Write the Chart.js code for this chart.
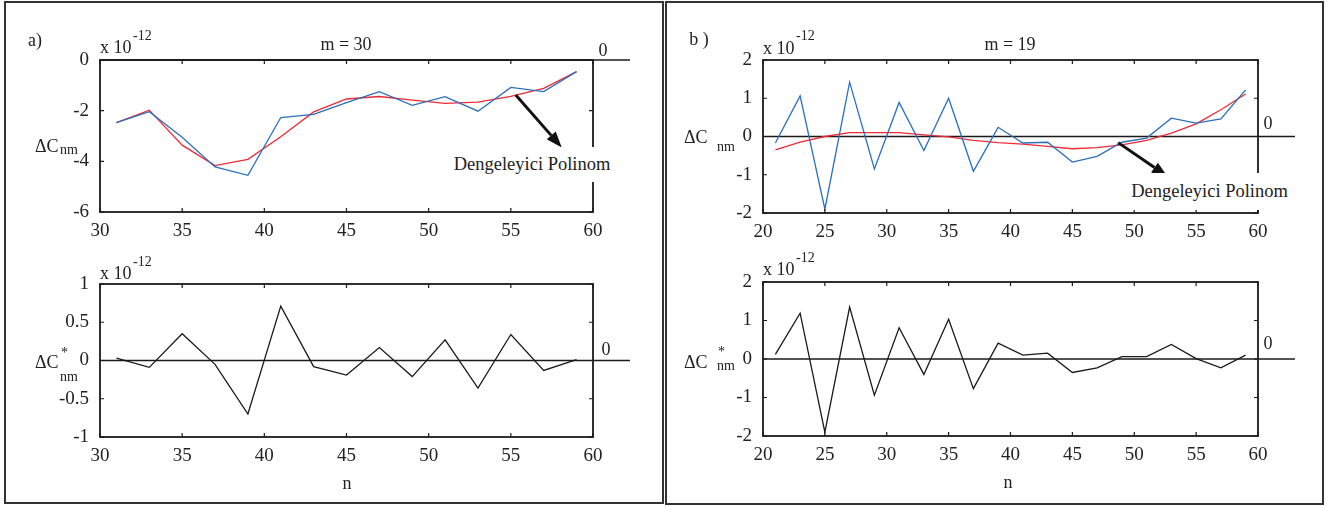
<!DOCTYPE html>
<html>
<head>
<meta charset="utf-8">
<script src="https://cdn.jsdelivr.net/npm/chart.js@4.4.1/dist/chart.umd.min.js"></script>
<style>
  body { margin: 0; background: #fff; }
  #page { position: relative; width: 1330px; height: 506px; overflow: hidden; font-family: 'Liberation Serif', 'Times New Roman', serif; color: #222; }
  .frame { position: absolute; border: 2px solid #333; box-sizing: border-box; }
  canvas { position: absolute; }
  .t { position: absolute; white-space: nowrap; line-height: 1; font-size: 18px; z-index: 2; }
  .c { transform: translate(-50%, -50%); }
  .l { transform: translateY(-50%); }
  .s { font-size: 14px; }
  .note { position: absolute; background: #fff; z-index: 2; font-size: 18.5px; line-height: 1; display: flex; align-items: center; justify-content: center; white-space: nowrap; }
</style>
</head>
<body>
<div id="page">
  <div class="frame" style="left:4px;top:1px;width:660px;height:503px"></div>
  <div class="frame" style="left:665px;top:1px;width:659px;height:504px"></div>

  <canvas id="aTop" width="665" height="253" style="left:0;top:0"></canvas>
  <canvas id="aBot" width="665" height="253" style="left:0;top:253px"></canvas>
  <canvas id="bTop" width="665" height="253" style="left:665px;top:0"></canvas>
  <canvas id="bBot" width="665" height="253" style="left:665px;top:253px"></canvas>

  <!-- panel a -->
  <span class="t c" style="left:35px;top:40px">a)</span>
  <span class="t l" style="left:100px;top:47px">x 10</span>
  <span class="t l s" style="left:133px;top:36px">-12</span>
  <span class="t c" style="left:346px;top:44px">m = 30</span>
  <span class="t c" style="left:603px;top:50px">0</span>
  <span class="t l" style="left:35px;top:146px">&Delta;C</span>
  <span class="t l s" style="left:60px;top:150px">nm</span>
  <div class="note" style="left:452px;top:147px;width:160px;height:35px">Dengeleyici Polinom</div>

  <span class="t l" style="left:100px;top:273px">x 10</span>
  <span class="t l s" style="left:133px;top:262px">-12</span>
  <span class="t c" style="left:606px;top:349px">0</span>
  <span class="t l" style="left:35px;top:362px">&Delta;C</span>
  <span class="t l s" style="left:61px;top:353px">*</span>
  <span class="t l s" style="left:60px;top:377px">nm</span>
  <span class="t c" style="left:347px;top:483px">n</span>

  <!-- panel b -->
  <span class="t c" style="left:699px;top:39px">b )</span>
  <span class="t l" style="left:763px;top:48px">x 10</span>
  <span class="t l s" style="left:796px;top:36px">-12</span>
  <span class="t c" style="left:1010px;top:44px">m = 19</span>
  <span class="t c" style="left:1268px;top:123px">0</span>
  <span class="t l" style="left:684px;top:137px">&Delta;C</span>
  <span class="t l s" style="left:717px;top:147px">nm</span>
  <div class="note" style="left:1129px;top:173px;width:161px;height:37px">Dengeleyici Polinom</div>

  <span class="t l" style="left:763px;top:269px">x 10</span>
  <span class="t l s" style="left:796px;top:258px">-12</span>
  <span class="t c" style="left:1268px;top:343px">0</span>
  <span class="t l" style="left:684px;top:362px">&Delta;C</span>
  <span class="t l s" style="left:718px;top:352px">*</span>
  <span class="t l s" style="left:717px;top:366px">nm</span>
  <span class="t c" style="left:1008px;top:482px">n</span>
</div>

<script>
// degree n (x axis)
const nA = [31, 33, 35, 37, 39, 41, 43, 45, 47, 49, 51, 53, 55, 57, 59];
const nB = [21, 23, 25, 27, 29, 31, 33, 35, 37, 39, 41, 43, 45, 47, 49, 51, 53, 55, 57, 59];

// m = 30, values x 1e-12
const aDelta = [-2.47, -2.04, -3.05, -4.22, -4.55, -2.27, -2.15, -1.68, -1.25, -1.79, -1.45, -2.02, -1.08, -1.25, -0.46];
const aPoly = [-2.47, -1.98, -3.36, -4.17, -3.92, -3.03, -2.05, -1.54, -1.44, -1.58, -1.71, -1.66, -1.44, -1.12, -0.46];
const aResid = [0.03, -0.09, 0.35, -0.05, -0.70, 0.71, -0.08, -0.19, 0.17, -0.21, 0.27, -0.36, 0.34, -0.13, 0.01];

// m = 19, values x 1e-12
const bDelta = [-0.17, 1.06, -1.90, 1.42, -0.85, 0.89, -0.37, 1.00, -0.91, 0.24, -0.17, -0.15, -0.67, -0.52, -0.15, -0.04, 0.48, 0.35, 0.46, 1.22];
const bPoly = [-0.35, -0.15, 0.00, 0.10, 0.10, 0.10, 0.04, -0.01, -0.10, -0.16, -0.20, -0.26, -0.32, -0.29, -0.22, -0.10, 0.09, 0.33, 0.70, 1.11];
const bResid = [0.12, 1.19, -1.90, 1.35, -0.94, 0.81, -0.40, 1.03, -0.77, 0.41, 0.10, 0.15, -0.35, -0.23, 0.06, 0.06, 0.38, 0.01, -0.23, 0.10];

// tick labels
const xTicksA = [30, 35, 40, 45, 50, 55, 60];
const xTicksB = [20, 25, 30, 35, 40, 45, 50, 55, 60];
const yTicksATop = [-6, -4, -2, 0];
const yTicksABot = [-1, -0.5, 0, 0.5, 1];
const yTicksB = [-2, -1, 0, 1, 2];

const BLUE = '#2a6fbd';
const RED = '#ee2a36';
const INK = '#1a1a1a';
const FONT = { family: "'Liberation Serif', 'Times New Roman', serif", size: 19 };

const matlabAxes = {
  id: 'matlabAxes',
  beforeDatasetsDraw(chart) {
    const { ctx, chartArea: a, scales } = chart;
    const y0 = scales.y.getPixelForValue(0);
    ctx.save();
    ctx.strokeStyle = INK;
    ctx.lineWidth = 1.5;
    ctx.beginPath();
    ctx.moveTo(a.left, y0);
    ctx.lineTo(a.right + 37, y0);
    ctx.stroke();
    ctx.restore();
  },
  afterDatasetsDraw(chart, args, opts) {
    const { ctx, chartArea: a, scales } = chart;
    ctx.save();
    ctx.strokeStyle = INK;
    ctx.lineWidth = 1.8;
    ctx.strokeRect(a.left, a.top, a.right - a.left, a.bottom - a.top);
    ctx.lineWidth = 1.2;
    ctx.beginPath();
    scales.x.ticks.forEach(t => {
      const px = scales.x.getPixelForValue(t.value);
      ctx.moveTo(px, a.bottom); ctx.lineTo(px, a.bottom - 4);
      ctx.moveTo(px, a.top); ctx.lineTo(px, a.top + 4);
    });
    scales.y.ticks.forEach(t => {
      const py = scales.y.getPixelForValue(t.value);
      ctx.moveTo(a.left, py); ctx.lineTo(a.left + 4, py);
      ctx.moveTo(a.right, py); ctx.lineTo(a.right - 4, py);
    });
    ctx.stroke();

    if (opts.arrow) {
      const [x1, y1, x2, y2] = opts.arrow;
      const sx = scales.x.getPixelForValue(x1), sy = scales.y.getPixelForValue(y1);
      const ex = scales.x.getPixelForValue(x2), ey = scales.y.getPixelForValue(y2);
      const ang = Math.atan2(ey - sy, ex - sx);
      const hl = 16, hw = 6;
      const bx = ex - hl * Math.cos(ang), by = ey - hl * Math.sin(ang);
      ctx.lineWidth = 3;
      ctx.strokeStyle = '#111';
      ctx.beginPath();
      ctx.moveTo(sx, sy);
      ctx.lineTo(bx, by);
      ctx.stroke();
      ctx.fillStyle = '#111';
      ctx.beginPath();
      ctx.moveTo(ex, ey);
      ctx.lineTo(bx + hw * Math.sin(ang), by - hw * Math.cos(ang));
      ctx.lineTo(bx - hw * Math.sin(ang), by + hw * Math.cos(ang));
      ctx.closePath();
      ctx.fill();
    }
    ctx.restore();
  },
};

function series(n, values, color) {
  return {
    data: values.map((v, i) => ({ x: n[i], y: v })),
    borderColor: color,
    borderWidth: 1.3,
    pointRadius: 0,
    tension: 0,
    fill: false,
  };
}

function makePlot(id, cfg) {
  return new Chart(document.getElementById(id), {
    type: 'line',
    data: { datasets: cfg.datasets },
    options: {
      responsive: false,
      animation: false,
      events: [],
      layout: { autoPadding: false, padding: cfg.padding },
      plugins: {
        legend: { display: false },
        tooltip: { enabled: false },
        matlabAxes: { arrow: cfg.arrow || null },
      },
      scales: {
        x: {
          type: 'linear',
          min: cfg.xTicks[0],
          max: cfg.xTicks[cfg.xTicks.length - 1],
          afterBuildTicks: (s) => { s.ticks = cfg.xTicks.map(v => ({ value: v })); },
          afterFit: (s) => { s.height = 30; },
          grid: { display: false },
          border: { display: false },
          ticks: { font: FONT, color: '#222', padding: 0, maxRotation: 0, autoSkip: false, callback: v => String(v) },
        },
        y: {
          min: cfg.yTicks[0],
          max: cfg.yTicks[cfg.yTicks.length - 1],
          afterBuildTicks: (s) => { s.ticks = cfg.yTicks.map(v => ({ value: v })); },
          afterFit: (s) => { s.width = 50; },
          grid: { display: false },
          border: { display: false },
          ticks: { font: FONT, color: '#222', padding: 3, autoSkip: false, callback: v => String(v) },
        },
      },
    },
    plugins: [matlabAxes],
  });
}

makePlot('aTop', {
  datasets: [series(nA, aDelta, BLUE), series(nA, aPoly, RED)],
  xTicks: xTicksA, yTicks: yTicksATop,
  padding: { left: 50, right: 72, top: 60, bottom: 11 },
  arrow: [55.3, -1.38, 58.1, -3.45],
});
makePlot('aBot', {
  datasets: [series(nA, aResid, INK)],
  xTicks: xTicksA, yTicks: yTicksABot,
  padding: { left: 50, right: 72, top: 31, bottom: 39 },
});
makePlot('bTop', {
  datasets: [series(nB, bDelta, BLUE), series(nB, bPoly, RED)],
  xTicks: xTicksB, yTicks: yTicksB,
  padding: { left: 48, right: 72, top: 60, bottom: 10 },
  arrow: [48.7, -0.16, 52.7, -1.05],
});
makePlot('bBot', {
  datasets: [series(nB, bResid, INK)],
  xTicks: xTicksB, yTicks: yTicksB,
  padding: { left: 48, right: 72, top: 29, bottom: 40 },
});
</script>
</body>
</html>
